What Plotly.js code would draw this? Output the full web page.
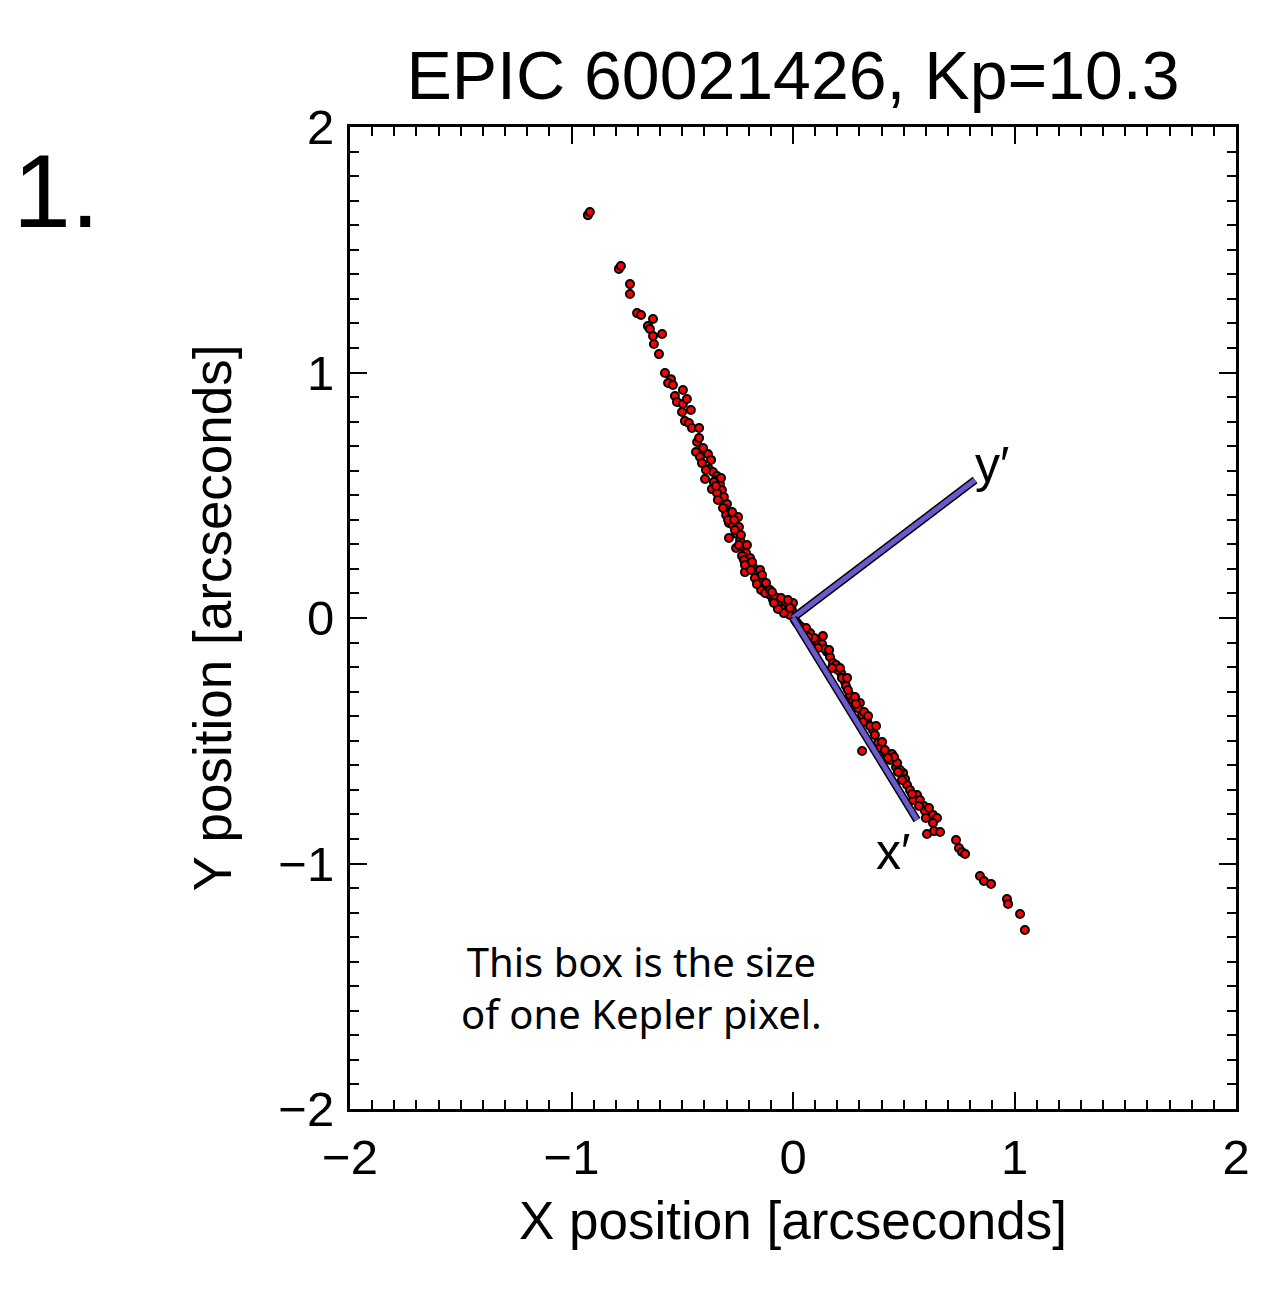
<!DOCTYPE html>
<html>
<head>
<meta charset="utf-8">
<script src="https://cdn.plot.ly/plotly-3.0.1.min.js"></script>
<style>html,body{margin:0;padding:0;background:#fff;}#chart{width:1268px;height:1294px;}</style>
</head>
<body>
<div id="chart"></div>
<script>
// Centroid positions (arcseconds)
const xPos = [
 -0.926,-0.917,-0.786,-0.777,-0.736,-0.736,-0.704,-0.686,-0.632,-0.655,-0.646,-0.591,-0.632,-0.628,-0.605,
 -0.578,-0.551,-0.564,-0.542,-0.497,-0.533,-0.524,-0.497,-0.479,-0.461,-0.501,-0.488,-0.470,-0.456,-0.424,
 -0.433,-0.424,-0.438,-0.384,-0.420,-0.411,-0.379,-0.361,-0.343,-0.348,-0.397,-0.357,-0.330,-0.366,-0.321,
 -0.343,-0.298,-0.307,-0.302,-0.280,-0.248,-0.289,-0.271,-0.244,-0.253,-0.289,-0.257,-0.226,-0.212,-0.199,
 -0.217,-0.181,-0.163,-0.153,-0.135,-0.117,-0.104,-0.090,-0.072,-0.050,-0.027,0.000,-0.005,
 -0.239,-0.230,-0.194,-0.172,-0.144,-0.126,-0.081,-0.059,-0.036,-0.014,0.009,-0.041,-0.068,-0.104,-0.185,
 -0.221,-0.262,-0.275,-0.312,-0.348,-0.293,-0.149,-0.163,-0.095,-0.032,-0.018,
 -0.406,-0.370,-0.393,-0.325,-0.339,-0.316,-0.266,-0.235,-0.208,-0.244,-0.190,-0.140,-0.122,-0.086,-0.054,
 -0.023,-0.014,-0.217,
 0.018,0.045,0.077,0.135,0.108,0.122,0.154,0.167,0.181,0.217,0.235,0.221,0.257,0.271,0.302,0.293,0.312,
 0.334,0.361,0.370,0.384,0.312,0.393,0.420,0.447,0.438,0.465,0.470,0.497,0.506,0.515,0.560,0.542,0.591,
 0.596,0.632,0.650,0.632,0.605,0.637,0.664,0.736,0.749,0.763,0.777,0.844,0.862,0.894,0.966,0.971,1.025,1.047,
 0.032,0.059,0.095,0.131,0.144,0.194,0.203,0.239,0.248,0.280,0.321,0.348,0.402,0.456,0.483,0.528,0.573,
 0.068,0.113,0.163,0.176,0.212,0.244,0.284,0.316,0.339,0.375,0.415,0.429,0.474,0.492,0.537,0.569,0.600,0.614
];
const yPos = [
 1.641,1.654,1.422,1.434,1.360,1.320,1.242,1.234,1.218,1.189,1.177,1.157,1.149,1.116,1.075,
 0.998,0.973,0.957,0.949,0.929,0.904,0.880,0.872,0.892,0.847,0.839,0.802,0.794,0.774,0.774,
 0.717,0.733,0.676,0.668,0.656,0.631,0.607,0.595,0.578,0.562,0.566,0.554,0.546,0.525,0.521,
 0.509,0.464,0.444,0.420,0.411,0.411,0.387,0.379,0.371,0.342,0.326,0.285,0.289,0.265,0.224,
 0.187,0.208,0.183,0.143,0.151,0.122,0.094,0.073,0.057,0.041,0.024,0.061,0.033,
 0.318,0.253,0.244,0.163,0.114,0.102,0.086,0.065,0.049,0.012,-0.008,0.020,0.037,0.114,0.228,
 0.236,0.358,0.432,0.493,0.538,0.399,0.196,0.138,0.106,0.065,0.045,
 0.692,0.644,0.603,0.570,0.481,0.448,0.399,0.338,0.297,0.297,0.196,0.175,0.143,0.061,0.081,
 0.073,0.041,0.216,
 -0.020,-0.049,-0.061,-0.073,-0.094,-0.118,-0.138,-0.159,-0.183,-0.224,-0.261,-0.244,-0.314,-0.334,-0.346,-0.367,-0.395,
 -0.415,-0.456,-0.477,-0.509,-0.542,-0.530,-0.550,-0.554,-0.578,-0.607,-0.591,-0.631,-0.656,-0.680,-0.721,-0.741,-0.766,
 -0.786,-0.802,-0.815,-0.835,-0.880,-0.868,-0.872,-0.904,-0.937,-0.953,-0.961,-1.051,-1.071,-1.083,-1.145,-1.165,-1.206,-1.271,
 -0.033,-0.041,-0.081,-0.106,-0.126,-0.191,-0.212,-0.277,-0.293,-0.322,-0.383,-0.440,-0.505,-0.566,-0.619,-0.701,-0.741,
 -0.077,-0.122,-0.130,-0.204,-0.204,-0.244,-0.350,-0.424,-0.399,-0.440,-0.538,-0.570,-0.627,-0.660,-0.717,-0.766,-0.815,-0.774
];
// Rotated axes x' and y' (from origin)
const xPrimeEnd = [0.560, -0.823];
const yPrimeEnd = [0.822, 0.562];
const primeLabels = ["x\u2032", "y\u2032"];
const xPrimeLabelPos = [0.451, -0.953];
const yPrimeLabelPos = [0.898, 0.623];

const titleText = "EPIC 60021426, Kp=10.3";
const noteLines = ["This box is the size", "of one Kepler pixel."];
const tickVals = [-2, -1, 0, 1, 2];

const helv = "Liberation Sans, Arial, Helvetica, sans-serif";
const noteFont = "Noto Sans, DejaVu Sans, sans-serif";

function axisLine(end, color, width) {
  return {x: [0, end[0]], y: [0, end[1]], mode: 'lines', type: 'scatter',
          line: {color: color, width: width}, hoverinfo: 'skip', showlegend: false};
}

const traces = [
  {x: xPos, y: yPos, mode: 'markers', type: 'scatter', showlegend: false,
   marker: {color: '#ff0000', size: 8, line: {color: '#000000', width: 2}}},
  axisLine(yPrimeEnd, '#000000', 8),
  axisLine(yPrimeEnd, '#6a5acd', 5),
  axisLine(xPrimeEnd, '#000000', 8),
  axisLine(xPrimeEnd, '#6a5acd', 5)
];

function axisCommon() {
  return {
    range: [-2, 2], tickmode: 'array', tickvals: tickVals,
    ticks: 'inside', ticklen: 17, tickwidth: 2, tickcolor: '#000',
    showline: true, linecolor: '#000', linewidth: 3, mirror: 'allticks',
    showgrid: false, zeroline: false,
    tickfont: {family: helv, size: 49, color: '#000'},
    minor: {dtick: 0.1, ticks: 'inside', ticklen: 9, tickwidth: 2, tickcolor: '#000', showgrid: false}
  };
}

const xaxis = Object.assign(axisCommon(), {
  title: {text: 'X position [arcseconds]', font: {family: helv, size: 53, color: '#000'}, standoff: 20},
  ticklabelstandoff: 3
});
const yaxis = Object.assign(axisCommon(), {
  title: {text: 'Y position [arcseconds]', font: {family: helv, size: 53, color: '#000'}, standoff: 30},
  ticklabelstandoff: 3
});

const layout = {
  width: 1268, height: 1294,
  margin: {l: 350, r: 32, t: 127, b: 185},
  paper_bgcolor: '#fff', plot_bgcolor: '#fff',
  title: {text: titleText, font: {family: helv, size: 68, color: '#000'},
          x: 0.5, xref: 'paper', y: 1 - 75/1294, yref: 'container', yanchor: 'middle'},
  xaxis: xaxis, yaxis: yaxis,
  showlegend: false,
  annotations: [
    {text: primeLabels[0], x: xPrimeLabelPos[0], y: xPrimeLabelPos[1], xref: 'x', yref: 'y',
     showarrow: false, font: {family: helv, size: 50, color: '#000'}},
    {text: primeLabels[1], x: yPrimeLabelPos[0], y: yPrimeLabelPos[1], xref: 'x', yref: 'y',
     showarrow: false, font: {family: helv, size: 50, color: '#000'}},
    {text: noteLines.join('<br>'), x: -0.686, y: -1.505, xref: 'x', yref: 'y', showarrow: false,
     align: 'center', font: {family: noteFont, size: 40, color: '#000'}},
    {text: '1.', x: -0.383, y: 0.935, xref: 'paper', yref: 'paper', xanchor: 'left', yanchor: 'middle',
     showarrow: false, font: {family: helv, size: 104, color: '#000'}}
  ]
};

Plotly.newPlot('chart', traces, layout, {displayModeBar: false, staticPlot: true});
</script>
</body>
</html>
